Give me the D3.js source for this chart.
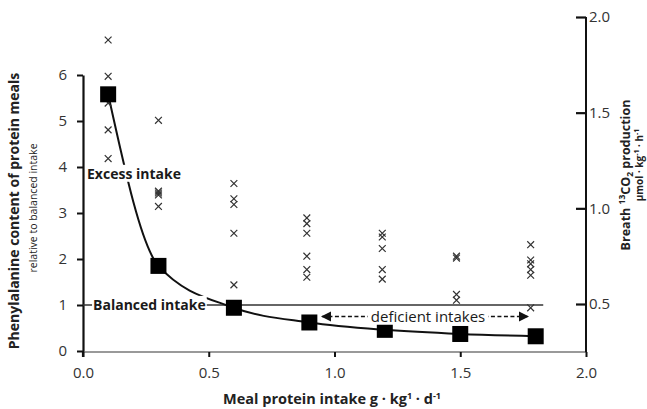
<!DOCTYPE html>
<html><head><meta charset="utf-8">
<script src="https://cdn.jsdelivr.net/npm/d3@7"></script>
<style>
body{margin:0;background:#fff;}
svg{display:block;font-family:"Open Sans",sans-serif;}
</style></head><body>
<svg id="c" width="647" height="409"></svg>
<script>
// ---- data ----
const intake = [0.1, 0.3, 0.6, 0.9, 1.2, 1.5, 1.8];               // g·kg-1·d-1
const pheContent = [5.58, 1.85, 0.94, 0.62, 0.46, 0.37, 0.32];    // relative to balanced intake (left axis)
const crossIntake = [0.1, 0.3, 0.6, 0.89, 1.19, 1.485, 1.78];     // x position of breath measurements
const breath13CO2 = [                                              // µmol·kg-1·h-1 (right axis)
  [1.88, 1.69, 1.55, 1.41, 1.26],
  [1.46, 1.09, 1.08, 1.07, 1.01],
  [1.13, 1.05, 1.02, 0.87, 0.60],
  [0.95, 0.92, 0.87, 0.75, 0.68, 0.64],
  [0.87, 0.85, 0.79, 0.68, 0.63],
  [0.75, 0.74, 0.55, 0.52],
  [0.81, 0.73, 0.71, 0.68, 0.65, 0.48]
];
const balancedLevel = 1;
const balancedRange = [0, 1.83];
const deficientRange = [0.95, 1.77];
const deficientLevel = 0.75;
const xTicks = [0, 0.5, 1.0, 1.5, 2.0];
const leftTicks = [0, 1, 2, 3, 4, 5, 6];
const rightTicks = [0.5, 1.0, 1.5, 2.0];

// ---- scales ----
const svg = d3.select("#c");
const x = d3.scaleLinear().domain([0, 2]).range([83, 586]);
const yL = d3.scaleLinear().domain([0, 6]).range([351, 75]);
const yR = d3.scaleLinear().domain([0.5, 2.0]).range([304, 17]);
const txt = "#333";

// x axis line (grey)
svg.append("line").attr("x1", x(0)).attr("x2", x(2)).attr("y1", yL(0)+1).attr("y2", yL(0)+1)
  .attr("stroke", "#777").attr("stroke-width", 1.3);
const gx = svg.append("g").attr("transform", `translate(0,${yL(0)+1})`)
  .call(d3.axisBottom(x).tickValues(xTicks).tickFormat(d3.format(".1f")).tickSize(5).tickPadding(10));
gx.select(".domain").remove();
gx.selectAll(".tick line").attr("stroke", "#111").attr("stroke-width", 2);
gx.selectAll("text").attr("font-size", 15).attr("fill", txt).attr("font-family", "Open Sans");

// left axis
const gl = svg.append("g").attr("transform", `translate(${x(0)},0)`)
  .call(d3.axisLeft(yL).tickValues(leftTicks).tickFormat(d3.format("d")).tickSizeInner(6).tickSizeOuter(0).tickPadding(10));
gl.select(".domain").attr("stroke", "#111").attr("stroke-width", 2.2);
gl.selectAll(".tick line").attr("stroke", "#111").attr("stroke-width", 2);
gl.selectAll("text").attr("font-size", 15).attr("fill", txt).attr("font-family", "Open Sans");
svg.append("line").attr("x1", x(0)).attr("x2", x(0)).attr("y1", yL(0)).attr("y2", yL(0)+6)
  .attr("stroke", "#111").attr("stroke-width", 2.2);

// right axis
const gr = svg.append("g").attr("transform", `translate(${x(2)},0)`)
  .call(d3.axisRight(yR).tickValues(rightTicks).tickFormat(d3.format(".1f")).tickSizeInner(-10).tickSizeOuter(0).tickPadding(3));
gr.select(".domain").remove();
gr.append("line").attr("x1", 0).attr("x2", 0).attr("y1", yR(2.0)).attr("y2", yL(0)+1)
  .attr("stroke", "#111").attr("stroke-width", 2);
gr.selectAll(".tick line").attr("stroke", "#111").attr("stroke-width", 2.2);
gr.selectAll("text").attr("font-size", 15).attr("fill", txt).attr("font-family", "Open Sans");

// balanced line
svg.append("line").attr("x1", x(balancedRange[0])).attr("x2", x(balancedRange[1]))
  .attr("y1", yL(balancedLevel)).attr("y2", yL(balancedLevel))
  .attr("stroke", "#333").attr("stroke-width", 1.5);

// curve through squares
const line = d3.line().x((d, i) => x(intake[i])).y(d => yL(d)).curve(d3.curveMonotoneX);
svg.append("path").attr("d", line(pheContent)).attr("fill", "none")
  .attr("stroke", "#111").attr("stroke-width", 2);

// crosses
const crosses = [];
breath13CO2.forEach((arr, i) => arr.forEach(v => crosses.push({x: crossIntake[i], v})));
const cs = 3.4;
svg.append("g").selectAll("path").data(crosses).join("path")
  .attr("d", d => {
    const cx = x(d.x), cy = yR(d.v);
    return `M${cx-cs},${cy-cs}L${cx+cs},${cy+cs}M${cx+cs},${cy-cs}L${cx-cs},${cy+cs}`;
  })
  .attr("stroke", "#333").attr("stroke-width", 1.2).attr("fill", "none");

// squares
svg.append("g").selectAll("rect").data(pheContent).join("rect")
  .attr("x", (d, i) => x(intake[i]) - 8).attr("y", d => yL(d) - 8)
  .attr("width", 16).attr("height", 16).attr("fill", "#000");

// labels with white background
function label(tx, ty, text, opts) {
  const g = svg.append("g");
  const t = g.append("text").attr("x", tx).attr("y", ty).attr("dy", "0.35em")
    .attr("font-size", opts.size).attr("font-weight", opts.weight)
    .attr("text-anchor", opts.anchor || "start").attr("fill", "#1a1a1a").text(text);
  const b = t.node().getBBox();
  g.insert("rect", "text").attr("x", b.x - (opts.padX||1)).attr("y", b.y + 1)
    .attr("width", b.width + 2*(opts.padX||1)).attr("height", b.height - 2).attr("fill", "#fff");
  return g;
}
label(x(0.016), yL(3.85), "Excess intake", {size: 14, weight: "bold"});
label(x(0.04), yL(balancedLevel), "Balanced intake", {size: 14, weight: "bold"});

// deficient arrow
const defY = yL(deficientLevel);
const ag = svg.append("g");
ag.append("defs").append("marker").attr("id", "ah").attr("viewBox", "0 0 10 10")
  .attr("refX", 9).attr("refY", 5).attr("markerWidth", 7).attr("markerHeight", 7)
  .attr("orient", "auto-start-reverse").append("path").attr("d", "M0,0L10,5L0,10z").attr("fill", "#111");
ag.append("line").attr("x1", x(deficientRange[0])).attr("x2", x(deficientRange[1]))
  .attr("y1", defY).attr("y2", defY).attr("stroke", "#111").attr("stroke-width", 1.5)
  .attr("stroke-dasharray", "4,2.5")
  .attr("marker-start", "url(#ah)").attr("marker-end", "url(#ah)");
label((x(deficientRange[0]) + x(deficientRange[1])) / 2 + 3, defY, "deficient intakes", {size: 15, weight: "normal", anchor: "middle", padX: 3});

// axis titles
const xt = svg.append("text").attr("x", 332).attr("y", 404).attr("text-anchor", "middle")
  .attr("font-size", 14.5).attr("font-weight", "bold").attr("fill", "#222");
xt.append("tspan").text("Meal protein intake  g · kg");
xt.append("tspan").attr("font-size", 9).attr("dy", -5).text("1");
xt.append("tspan").attr("dy", 5).text(" · d");
xt.append("tspan").attr("font-size", 9).attr("dy", -5).text("-1");

svg.append("text").attr("transform", "translate(19,211) rotate(-90)").attr("text-anchor", "middle")
  .attr("font-size", 14).attr("font-weight", "bold").attr("fill", "#222")
  .text("Phenylalanine content of protein meals");
svg.append("text").attr("transform", "translate(37,208) rotate(-90)").attr("text-anchor", "middle")
  .attr("font-size", 10.5).attr("fill", "#222")
  .text("relative to balanced intake");

const rt = svg.append("text").attr("transform", "translate(630,175) rotate(-90)").attr("text-anchor", "middle")
  .attr("font-size", 12.5).attr("font-weight", "bold").attr("fill", "#222");
rt.append("tspan").text("Breath ");
rt.append("tspan").attr("font-size", 8.5).attr("dy", -5).text("13");
rt.append("tspan").attr("dy", 5).text("CO");
rt.append("tspan").attr("font-size", 8.5).attr("dy", 2.5).text("2");
rt.append("tspan").attr("dy", -2.5).text(" production");
const rt2 = svg.append("text").attr("transform", "translate(643,165) rotate(-90)").attr("text-anchor", "middle")
  .attr("font-size", 10).attr("font-weight", "bold").attr("fill", "#222");
rt2.append("tspan").text("µmol · kg");
rt2.append("tspan").attr("font-size", 7).attr("dy", -4).text("-1");
rt2.append("tspan").attr("dy", 4).text(" · h");
rt2.append("tspan").attr("font-size", 7).attr("dy", -4).text("-1");
</script></body></html>
